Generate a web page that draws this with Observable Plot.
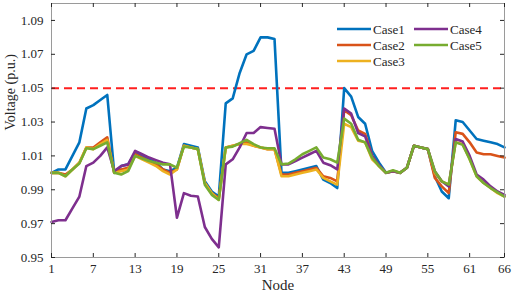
<!DOCTYPE html>
<html><head><meta charset="utf-8">
<script src="https://cdn.jsdelivr.net/npm/d3@7"></script>
<script src="https://cdn.jsdelivr.net/npm/@observablehq/plot@0.6"></script>
<style>body{margin:0;background:#fff}</style>
</head><body>
<script>
const caseNames = ["Case1","Case2","Case3","Case4","Case5"];
const caseColors = ["#0072BD","#D95319","#EDB120","#7E2F8E","#77AC30"];
const xTicks = [1,7,13,19,25,31,37,43,49,55,61,66];
const yTicks = [0.95,0.97,0.99,1.01,1.03,1.05,1.07,1.09];
const limit = 1.05;

const case1 = [1.000,1.002,1.002,1.010,1.018,1.038,1.040,1.043,1.046,1.000,
1.004,1.005,1.012,1.010,1.008,1.006,1.002,1.001,1.003,1.017,
1.016,1.015,0.995,0.989,0.986,1.041,1.044,1.059,1.070,1.072,
1.080,1.080,1.079,1.000,1.000,1.001,1.002,1.003,1.004,0.996,
0.994,0.991,1.050,1.045,1.033,1.029,1.013,1.006,1.000,1.001,
1.000,1.003,1.016,1.015,1.014,0.998,0.989,0.985,1.031,1.030,
1.025,1.020,1.019,1.018,1.017,1.015];
const case2 = [1.000,1.000,0.999,1.002,1.006,1.015,1.015,1.018,1.021,1.000,
1.002,1.003,1.011,1.009,1.007,1.005,1.002,1.000,1.002,1.016,
1.015,1.014,0.994,0.988,0.985,1.015,1.016,1.017,1.018,1.016,
1.015,1.014,1.014,0.999,0.999,1.000,1.001,1.002,1.003,0.998,
0.997,0.995,1.037,1.034,1.025,1.023,1.010,1.004,1.000,1.001,
1.000,1.003,1.016,1.015,1.014,0.997,0.992,0.988,1.024,1.023,
1.018,1.012,1.011,1.011,1.010,1.009];
const case3 = [1.000,1.000,0.998,1.002,1.006,1.015,1.014,1.017,1.0195,1.000,
1.001,1.002,1.010,1.008,1.006,1.004,1.001,0.999,1.002,1.016,
1.015,1.014,0.994,0.988,0.984,1.015,1.016,1.017,1.017,1.016,
1.015,1.014,1.014,0.998,0.998,0.999,1.000,1.001,1.002,0.997,
0.995,0.993,1.029,1.027,1.019,1.018,1.008,1.004,1.000,1.001,
1.000,1.003,1.016,1.015,1.014,1.000,0.995,0.993,1.018,1.017,
1.008,0.998,0.994,0.991,0.988,0.986];
const case4 = [0.971,0.972,0.972,0.979,0.986,1.004,1.006,1.010,1.015,1.001,
1.004,1.005,1.013,1.011,1.009,1.0075,1.006,1.005,0.9735,0.988,
0.9865,0.986,0.968,0.961,0.956,1.005,1.008,1.015,1.0235,1.0235,
1.027,1.0265,1.026,1.005,1.005,1.007,1.009,1.011,1.013,1.006,
1.0045,1.002,1.038,1.035,1.0235,1.0215,1.010,1.0045,1.000,1.001,
1.000,1.003,1.016,1.015,1.014,1.001,0.995,0.992,1.020,1.0185,
1.010,0.999,0.996,0.992,0.989,0.987];
const case5 = [1.000,1.000,0.998,1.002,1.0055,1.0145,1.014,1.016,1.018,1.000,
0.999,1.001,1.010,1.0085,1.007,1.006,1.005,1.005,1.003,1.0155,
1.015,1.014,0.993,0.987,0.984,1.015,1.0155,1.0175,1.0195,1.017,
1.015,1.0145,1.0145,1.005,1.0055,1.008,1.011,1.013,1.015,1.009,
1.008,1.006,1.032,1.029,1.0195,1.018,1.009,1.004,1.000,1.0015,
1.000,1.003,1.016,1.015,1.014,1.001,0.995,0.993,1.018,1.0165,
1.008,0.998,0.994,0.991,0.9885,0.986];

const series = [case1,case2,case3,case4,case5];
const data = series.flatMap((vals, i) => vals.map((v, j) => ({node: j + 1, v, c: caseNames[i]})));

const W = 512, H = 293, mL = 51, mR = 8, mT = 3, mB = 36;
const pw = W - mL - mR, ph = H - mT - mB, tick = 4;
const ink = "#262626";

const chart = Plot.plot({
  width: W, height: H, marginLeft: mL, marginRight: mR, marginTop: mT, marginBottom: mB,
  style: {fontFamily: "'Liberation Serif', 'Times New Roman', serif", fontSize: "13px", background: "#fff", color: ink},
  x: {domain: [1, 66]},
  y: {domain: [0.95, 1.10]},
  color: {domain: caseNames, range: caseColors},
  marks: [
    Plot.ruleY([limit], {stroke: "#ff1f1f", strokeWidth: 2, strokeDasharray: "8,5"}),
    Plot.line(data, {x: "node", y: "v", z: "c", stroke: "c", strokeWidth: 2.6, strokeLinejoin: "round"}),
    Plot.frame({stroke: "#9a9a9a", strokeWidth: 1}),
    Plot.tickX(xTicks, {x: d => d, insetTop: ph - tick, stroke: ink}),
    Plot.tickX(xTicks, {x: d => d, insetBottom: ph - tick, stroke: ink}),
    Plot.tickY(yTicks, {y: d => d, insetRight: pw - tick, stroke: ink}),
    Plot.tickY(yTicks, {y: d => d, insetLeft: pw - tick, stroke: ink}),
    Plot.axisX({ticks: xTicks, tickSize: 0, tickPadding: 6, tickFormat: d => String(d), label: null, fill: ink}),
    Plot.axisY({ticks: yTicks, tickSize: 0, tickPadding: 8, tickFormat: d => d.toFixed(2), label: null, fill: ink}),
    Plot.text(["Node"], {frameAnchor: "bottom", dy: 32, text: d => d, fill: ink, fontSize: 15}),
    Plot.text(["Voltage (p.u.)"], {frameAnchor: "left", dx: -41, rotate: -90, text: d => d, fill: ink, fontSize: 14})
  ]
});
document.body.appendChild(chart);

// legend (no box), two columns, column-major
const legendRows = 3, colX = [337, 414], rowY0 = 29, rowDY = 16, lineLen = 34;
const lg = d3.select(chart).append("g")
  .attr("font-family", "'Liberation Serif', 'Times New Roman', serif")
  .attr("font-size", 13)
  .attr("text-anchor", "start");
caseNames.forEach((name, i) => {
  const col = Math.floor(i / legendRows), row = i % legendRows;
  const x = colX[col], y = rowY0 + row * rowDY;
  lg.append("line").attr("x1", x).attr("x2", x + lineLen).attr("y1", y).attr("y2", y)
    .attr("stroke", caseColors[i]).attr("stroke-width", 2.6);
  lg.append("text").attr("x", x + lineLen + 2).attr("y", y).attr("dy", "0.35em")
    .attr("text-anchor", "start").attr("fill", ink).text(name);
});
</script>
</body></html>
